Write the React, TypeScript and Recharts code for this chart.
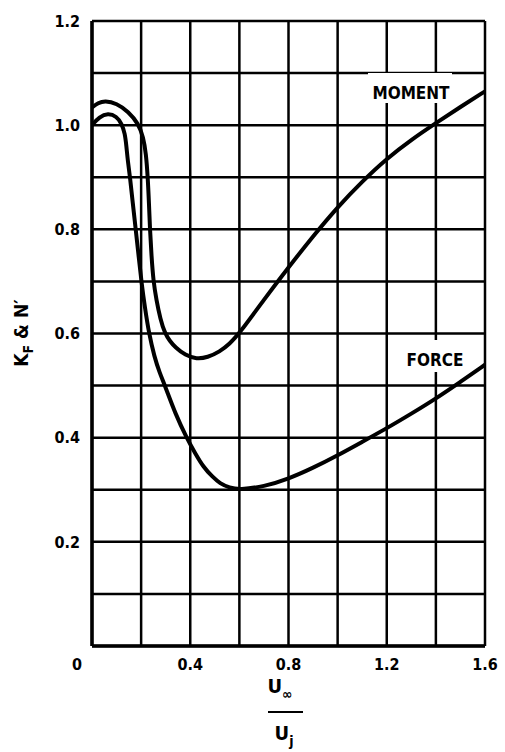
import { LineChart, Line, XAxis, YAxis, CartesianGrid } from "recharts";

const FONT = "'DejaVu Sans Condensed', 'DejaVu Sans', sans-serif";

const xTicks = [0, 0.2, 0.4, 0.6, 0.8, 1.0, 1.2, 1.4, 1.6];
const xTickLabels = ["0", "", "0.4", "", "0.8", "", "1.2", "", "1.6"];
const yTicks = [0, 0.1, 0.2, 0.3, 0.4, 0.5, 0.6, 0.7, 0.8, 0.9, 1.0, 1.1, 1.2];
const yTickLabels = ["", "", "0.2", "", "0.4", "", "0.6", "", "0.8", "", "1.0", "", "1.2"];

// moment curve (N')
const momentX = [
  0, 0.025, 0.053, 0.1, 0.148, 0.189, 0.209, 0.22, 0.227, 0.232, 0.236, 0.242,
  0.25, 0.262, 0.278, 0.297, 0.318, 0.338, 0.38, 0.426, 0.47, 0.52, 0.56,
  0.6, 0.7, 0.8, 0.9, 1.0, 1.1, 1.2, 1.3, 1.4, 1.5, 1.6,
];
const momentY = [
  1.034, 1.043, 1.047, 1.042, 1.026, 1.003, 0.977, 0.945, 0.9, 0.85, 0.8,
  0.75, 0.7, 0.665, 0.628, 0.6, 0.585, 0.574, 0.558, 0.551, 0.554, 0.565,
  0.58, 0.6, 0.665, 0.727, 0.787, 0.843, 0.892, 0.936, 0.972, 1.004, 1.035,
  1.065,
];

// force curve (K_F)
const forceX = [
  0, 0.03, 0.065, 0.1, 0.121, 0.134, 0.14, 0.146, 0.155, 0.166, 0.178, 0.19,
  0.202, 0.216, 0.232, 0.254, 0.275, 0.297, 0.34, 0.385, 0.42, 0.453, 0.49,
  0.521, 0.56, 0.6, 0.7, 0.8, 0.9, 1.0, 1.1, 1.2, 1.3, 1.4, 1.5, 1.6,
];
const forceY = [
  1.0, 1.016, 1.023, 1.017, 1.003, 0.984, 0.96, 0.93, 0.9, 0.85, 0.8, 0.748,
  0.696, 0.648, 0.6, 0.555, 0.525, 0.5, 0.445, 0.4, 0.37, 0.344, 0.325,
  0.312, 0.304, 0.3, 0.306, 0.321, 0.342, 0.366, 0.392, 0.418, 0.446, 0.475,
  0.507, 0.54,
];

const toPoints = (xs: number[], ys: number[]) =>
  xs.map((x, i) => ({ x, y: ys[i] }));

const momentData = toPoints(momentX, momentY);
const forceData = toPoints(forceX, forceY);

function XTick(props: any) {
  const { x, y, payload } = props;
  const idx = xTicks.indexOf(payload.value);
  const label = idx >= 0 ? xTickLabels[idx] : "";
  if (!label) return null;
  return (
    <text
      x={x + (payload.value === 0 ? -15 : 0)}
      y={y}
      dy="0.71em"
      textAnchor="middle"
      fill="#000"
      fontSize={16}
      fontWeight={700}
      fontFamily={FONT}
    >
      {label}
    </text>
  );
}

export default function App() {
  return (
    <div style={{ position: "relative", width: 505, height: 752, background: "#fff" }}>
      <style>{"body{margin:0;background:#fff}"}</style>
      <LineChart
        width={505}
        height={752}
        margin={{ top: 21, right: 20, bottom: 66, left: 0 }}
      >
        <CartesianGrid stroke="#000" strokeWidth={2.5} />
        <XAxis
          type="number"
          dataKey="x"
          domain={[0, 1.6]}
          ticks={xTicks}
          interval={0}
          tick={<XTick />}
          tickLine={false}
          tickSize={0}
          tickMargin={13}
          height={40}
          axisLine={{ stroke: "#000", strokeWidth: 3.5 }}
          allowDataOverflow
        />
        <YAxis
          type="number"
          dataKey="y"
          domain={[0, 1.2]}
          ticks={yTicks}
          interval={0}
          width={92}
          tickLine={false}
          tickSize={0}
          tickMargin={12}
          tickFormatter={(v: number) => yTickLabels[yTicks.indexOf(v)] ?? ""}
          tick={{ fill: "#000", fontSize: 16, fontWeight: 700, fontFamily: FONT }}
          axisLine={{ stroke: "#000", strokeWidth: 3.5 }}
          allowDataOverflow
        />
        <Line
          data={momentData}
          dataKey="y"
          type="basis"
          stroke="#000"
          strokeWidth={4}
          dot={false}
          isAnimationActive={false}
        />
        <Line
          data={forceData}
          dataKey="y"
          type="basis"
          stroke="#000"
          strokeWidth={4}
          dot={false}
          isAnimationActive={false}
        />
      </LineChart>
      <svg
        width={505}
        height={752}
        style={{ position: "absolute", left: 0, top: 0, pointerEvents: "none" }}
        fontFamily={FONT}
        fontWeight={700}
        fill="#000"
      >
        <rect x={368} y={73} width={84} height={30} fill="#fff" />
        <text x={411} y={99} textAnchor="middle" fontSize={17}>
          MOMENT
        </text>
        <rect x={400} y={340} width={70} height={32} fill="#fff" />
        <text x={435} y={366} textAnchor="middle" fontSize={17}>
          FORCE
        </text>
        <text transform="rotate(-90, 22, 333)" x={22} y={339} textAnchor="middle" fontSize={19}>
          K<tspan fontSize={14} dy={5}>F</tspan>
          <tspan dy={-5}> &amp; N′</tspan>
        </text>
        <text x={280} y={693} textAnchor="middle" fontSize={20}>
          U<tspan fontSize={14} dy={6}>∞</tspan>
        </text>
        <line x1={268} x2={303} y1={712} y2={712} stroke="#000" strokeWidth={2} />
        <text x={284} y={740} textAnchor="middle" fontSize={20}>
          U<tspan fontSize={14} dy={6}>j</tspan>
        </text>
      </svg>
    </div>
  );
}
